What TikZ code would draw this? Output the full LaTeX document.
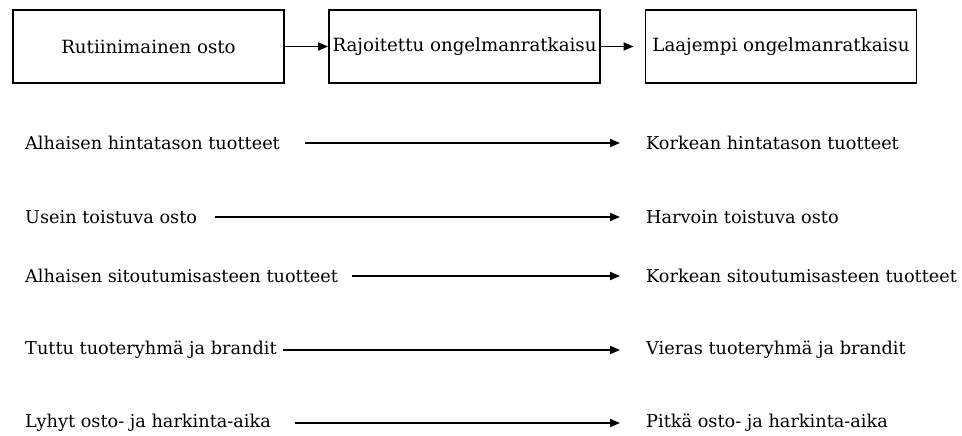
\documentclass[tikz,border=0pt]{standalone}
\usepackage{fontspec}
\setmainfont{DejaVu Serif}
\usetikzlibrary{arrows.meta, calc}

\begin{document}
\begin{tikzpicture}[
    x=1pt, y=-1pt,
    >={Triangle[length=10pt, width=8pt]},
    line cap=butt,
    stagebox/.style={draw, line width=1.8pt, minimum width=271pt, minimum height=73pt,
        inner sep=0pt, font=\fontsize{18.2}{21}\selectfont},
    rowtext/.style={anchor=west, inner sep=0pt, font=\fontsize{17.7}{21}\selectfont},
    flow/.style={->, line width=1.8pt}
]

% Canvas
\useasboundingbox (0,0) rectangle (962,436);

% Stages of buying decision
\node[stagebox] (rutiini) at (148.5, 46.5) {Rutiinimainen osto};
\node[stagebox] (rajoitettu) at (464.5, 46.5) {Rajoitettu ongelmanratkaisu};
\node[stagebox] (laajempi) at (781, 46.5) {Laajempi ongelmanratkaisu};

\draw[flow] (rutiini.east) -- (rajoitettu.west);
\draw[flow] (rajoitettu.east) -- ([xshift=-11pt]laajempi.west);

% Left and right ends of each scale
\node[rowtext] (vasen1) at (25, 143) {Alhaisen hintatason tuotteet};
\node[rowtext] (oikea1) at (646, 143) {Korkean hintatason tuotteet};
\node[rowtext] (vasen2) at (25, 217) {Usein toistuva osto};
\node[rowtext] (oikea2) at (646, 217) {Harvoin toistuva osto};
\node[rowtext] (vasen3) at (25, 276) {Alhaisen sitoutumisasteen tuotteet};
\node[rowtext] (oikea3) at (646, 276) {Korkean sitoutumisasteen tuotteet};
\node[rowtext] (vasen4) at (25, 350) {Tuttu tuoteryhmä ja brandit};
\node[rowtext] (oikea4) at (646, 350) {Vieras tuoteryhmä ja brandit};
\node[rowtext] (vasen5) at (25, 423) {Lyhyt osto- ja harkinta-aika};
\node[rowtext] (oikea5) at (646, 423) {Pitkä osto- ja harkinta-aika};

% Arrow start points
\coordinate (alku1) at (305, 143);
\coordinate (alku2) at (215, 217);
\coordinate (alku3) at (352, 276);
\coordinate (alku4) at (283, 350);
\coordinate (alku5) at (295, 423);

% Scale arrows
\foreach \i in {1,...,5}
    \draw[flow] (alku\i) -- ([xshift=-26pt]oikea\i.west);

\end{tikzpicture}
\end{document}
